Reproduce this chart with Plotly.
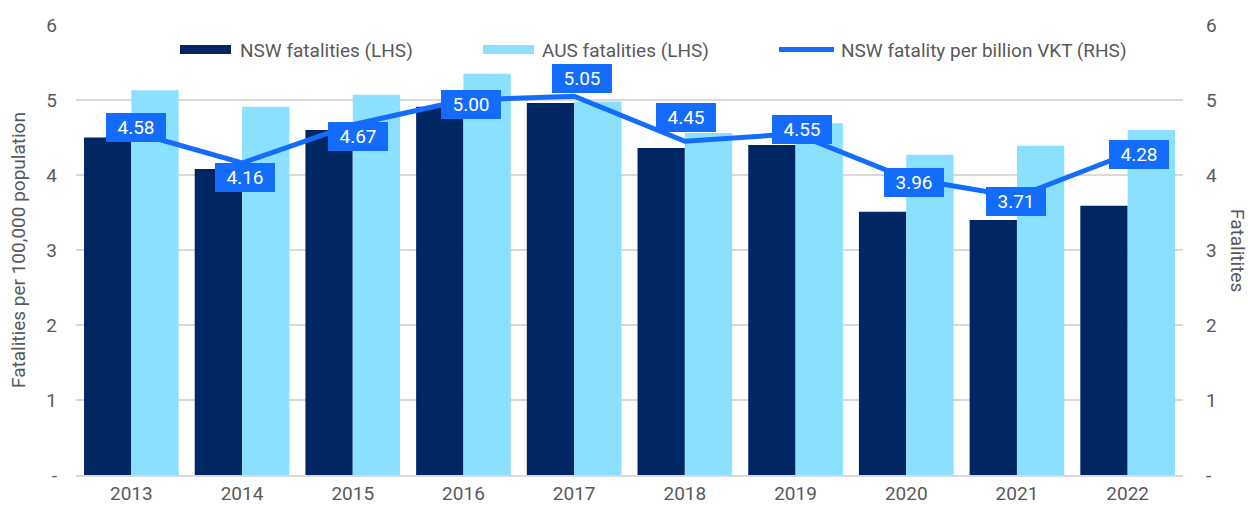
import plotly.graph_objects as go

# ---------------- data ----------------
years = ["2013", "2014", "2015", "2016", "2017", "2018", "2019", "2020", "2021", "2022"]
nsw_fatalities = [4.50, 4.08, 4.60, 4.91, 4.96, 4.36, 4.40, 3.51, 3.40, 3.59]
aus_fatalities = [5.13, 4.91, 5.07, 5.35, 4.98, 4.56, 4.69, 4.27, 4.39, 4.60]
nsw_per_vkt = [4.58, 4.16, 4.67, 5.00, 5.05, 4.45, 4.55, 3.96, 3.71, 4.28]
y_tickvals = [0, 1, 2, 3, 4, 5, 6]
y_ticktext = ["-", "1", "2", "3", "4", "5", "6"]

# ---------------- style ----------------
NAVY = "#002664"
LIGHT = "#8CE0FF"
BLUE = "#146CFD"
GRID = "#D9D9D9"
TXT = "#595959"
FONT = "Roboto"
FS = 19

W, H = 1248, 506
L, R, T, B = 76, 65, 25, 31
PW, PH = W - L - R, H - T - B

# label offsets in pixels (dx right, dy up)
label_dx = [5, 3, 5, 8, 8, 1, 6, 8, -1, 11]
label_dy = [4, -14, -12, -4, 18, 24, 4, -4, -5, 0]


def px(x):
    return (x - L) / PW


def py(y):
    return (H - B - y) / PH


fig = go.Figure()
fig.add_trace(go.Bar(x=years, y=nsw_fatalities, name="NSW fatalities (LHS)",
                     marker=dict(color=NAVY, line=dict(width=0)), showlegend=False))
fig.add_trace(go.Bar(x=years, y=aus_fatalities, name="AUS fatalities (LHS)",
                     marker=dict(color=LIGHT, line=dict(width=0)), showlegend=False))
fig.add_trace(go.Scatter(x=years, y=nsw_per_vkt, name="NSW fatality per billion VKT (RHS)",
                         mode="lines", line=dict(color=BLUE, width=5), yaxis="y2",
                         showlegend=False))

annotations = []
for i, v in enumerate(nsw_per_vkt):
    annotations.append(dict(
        x=i, y=v, xref="x", yref="y2", text=f"{v:.2f}", showarrow=False,
        xshift=label_dx[i], yshift=label_dy[i],
        bgcolor=BLUE, font=dict(family=FONT, size=FS, color="white"),
        width=54, height=23, borderpad=3, borderwidth=0,
    ))

# manual legend
shapes = [
    dict(type="rect", xref="paper", yref="paper", x0=px(180), x1=px(231), y0=py(54), y1=py(45),
         fillcolor=NAVY, line=dict(width=0)),
    dict(type="rect", xref="paper", yref="paper", x0=px(483), x1=px(534), y0=py(54), y1=py(45),
         fillcolor=LIGHT, line=dict(width=0)),
    dict(type="line", xref="paper", yref="paper", x0=px(779), x1=px(834), y0=py(49.5), y1=py(49.5),
         line=dict(color=BLUE, width=5)),
]
legend_items = [("NSW fatalities (LHS)", 238), ("AUS fatalities (LHS)", 540),
                ("NSW fatality per billion VKT (RHS)", 839)]
for text, xpx in legend_items:
    annotations.append(dict(x=px(xpx), y=py(50), xref="paper", yref="paper", text=text,
                            showarrow=False, xanchor="left", yanchor="middle",
                            font=dict(family=FONT, size=FS, color=TXT)))

# axis titles
annotations.append(dict(x=px(18), y=py(250), xref="paper", yref="paper",
                        text="Fatalities per 100,000 population", textangle=-90,
                        showarrow=False, xanchor="center", yanchor="middle",
                        font=dict(family=FONT, size=FS, color=TXT)))
annotations.append(dict(x=px(1238), y=py(250), xref="paper", yref="paper",
                        text="Fatalitites", textangle=90,
                        showarrow=False, xanchor="center", yanchor="middle",
                        font=dict(family=FONT, size=FS, color=TXT)))

fig.update_layout(
    width=W, height=H, autosize=False,
    margin=dict(l=L, r=R, t=T, b=B, pad=0, autoexpand=False),
    paper_bgcolor="white", plot_bgcolor="white",
    font=dict(family=FONT, size=FS, color=TXT),
    barmode="group", bargap=0.145, bargroupgap=0,
    xaxis=dict(type="category", range=[-0.5, len(years) - 0.5], autorange=False,
               automargin=False,
               showgrid=False, showline=True, linecolor=GRID, linewidth=2,
               ticks="", tickfont=dict(family=FONT, size=FS, color=TXT), ticklabelstandoff=0),
    yaxis=dict(range=[0, 6], autorange=False, automargin=False,
               tickvals=y_tickvals, ticktext=y_ticktext,
               showgrid=True, gridcolor=GRID, gridwidth=2, zeroline=False, showline=False,
               ticks="", tickfont=dict(family=FONT, size=FS, color=TXT), ticklabelstandoff=18),
    yaxis2=dict(range=[0, 6], autorange=False, automargin=False,
                tickvals=y_tickvals, ticktext=y_ticktext,
                overlaying="y", side="right", showgrid=False, zeroline=False, showline=False,
                ticks="", tickfont=dict(family=FONT, size=FS, color=TXT), ticklabelstandoff=22),
    annotations=annotations,
    shapes=shapes,
    hovermode=False,
)

fig.write_html("out.html", config={"displayModeBar": False},
               post_script="document.body.style.margin='0';")
